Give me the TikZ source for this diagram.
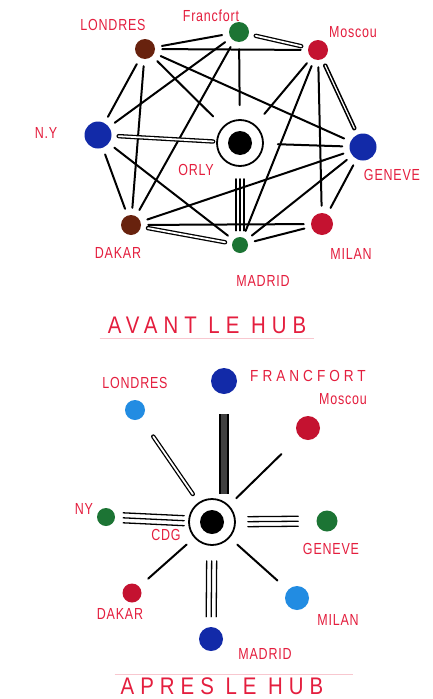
\documentclass[tikz,border=0pt]{standalone}
\usepackage{fontspec}
\newfontfamily\hand[LetterSpace=5,FakeStretch=0.78]{Liberation Sans}
\newfontfamily\handwide[LetterSpace=25,FakeStretch=0.85]{Liberation Sans}
\definecolor{ink}{RGB}{228,30,62}
\definecolor{rd}{RGB}{196,18,48}
\definecolor{gr}{RGB}{28,116,52}
\definecolor{bl}{RGB}{18,42,168}
\definecolor{br}{RGB}{104,34,14}
\definecolor{sky}{RGB}{34,140,226}
\tikzset{c/.style={circle,fill=#1,minimum size=20pt,inner sep=0pt},
 hub/.style={circle,draw,line width=1.8pt,minimum size=46pt,inner sep=0pt,path picture={\fill (path picture bounding box.center) circle (12pt);}},
 t/.style={text=ink,font=\hand\fontsize{16}{16}\selectfont,inner sep=0pt},
 ttl/.style={text=ink,font=\handwide\fontsize{24}{24}\selectfont,inner sep=0pt},
 ln/.style={line width=2pt,line cap=round,shorten <=7pt,shorten >=7pt},
 dbl/.style={ln,line width=1.3pt,double,double distance=1.8pt},
 thin3/.style={ln,line width=1.3pt},
 bar/.style={line width=2pt,double=black!75,double distance=6pt,shorten <=4pt,shorten >=20pt}}
\begin{document}
\begin{tikzpicture}[x=1pt,y=-1pt]
\clip (0,0) rectangle (432,699);
\fill[white] (0,0) rectangle (432,699);
% avant le hub
\node[c=br](lo) at (145,49){};\node[c=gr](fr) at (239,32){};\node[c=rd](mo) at (318,50){};
\node[c=bl,minimum size=27pt](ny) at (98,135){};\node[hub](or) at (240,143){};
\node[c=bl,minimum size=27pt](ge) at (363,147){};\node[c=br](da) at (131,225){};
\node[c=rd,minimum size=22pt](mi) at (322,224){};\node[c=gr,minimum size=16pt](ma) at (240,245){};
\foreach \p/\q in {lo/fr,lo/mo,lo/ny,lo/da,lo/ge,fr/ny,fr/da,mo/ma,mo/mi,ny/da,ny/ma,ge/da,ge/ma,ge/mi,da/mi,ma/mi}
 \draw[ln](\p)--(\q);
\foreach \p in {lo,fr,mo,ge} \draw[ln,shorten >=14pt](\p)--(or);
\draw[dbl](fr)--(mo);\draw[dbl,shorten >=3pt](ny)--(or);\draw[dbl,line width=1.6pt,double distance=1.2pt](mo)--(ge);\draw[dbl](da)--(ma);
\foreach \s in {-4,0,4} \draw[thin3,transform canvas={xshift=\s pt},shorten <=12pt,shorten >=6pt](or)--(ma);
\node[t](llo) at (113,25){LONDRES};\node[t](lfr) at (211,16){Francfort};\node[t](lmo) at (353,32){Moscou};
\node[t](lny) at (46,133){N.Y};\node[t](lor) at (196,170){ORLY};\node[t](lge) at (392,175){GENEVE};
\node[t](lda) at (118,253){DAKAR};\node[t](lmi) at (351,254){MILAN};\node[t](lma) at (263,281){MADRID};
\node[ttl](avant) at (207,325){AVANT LE HUB};
\draw[ink!25,line width=0.6pt](avant.south west)++(-8,5)--([xshift=8pt,yshift=-5pt]avant.south east);
% apres le hub
\node[hub](cdg) at (212,522){};
\node[c=sky](lo2) at (135,410){};\node[c=bl,minimum size=26pt](fr2) at (224,381){};
\node[c=rd,minimum size=24pt](mo2) at (308,428){};\node[c=gr,minimum size=18pt](ny2) at (106,517){};
\node[c=gr,minimum size=21pt](ge2) at (327,521){};\node[c=rd,minimum size=19pt](da2) at (132,593){};
\node[c=sky,minimum size=24pt](mi2) at (297,598){};\node[c=bl,minimum size=24pt](ma2) at (211,639){};
\draw[bar](fr2|-cdg.north)--(fr2);
\draw[dbl,shorten <=10pt,shorten >=22pt](cdg)--(lo2);
\draw[ln,shorten <=10pt,shorten >=25pt](cdg)--(mo2);
\draw[ln,shorten <=10pt,shorten >=12pt](cdg)--(da2);
\draw[ln,shorten <=10pt,shorten >=14pt](cdg)--(mi2);
\foreach \s in {-5,0,5}{\draw[thin3,transform canvas={yshift=\s pt},shorten <=4pt,shorten >=8pt](cdg)--(ny2);
 \draw[thin3,transform canvas={yshift=\s pt},shorten <=12pt,shorten >=18pt](cdg)--(ge2);
 \draw[thin3,transform canvas={xshift=\s pt},shorten <=15pt,shorten >=10pt](cdg)--(ma2);}
\node[t](llo2) at (135,383){LONDRES};\node[t,font=\handwide\fontsize{16}{16}\selectfont](lfr2) at (308,376){FRANCFORT};
\node[t](lmo2) at (343,399){Moscou};\node[t](lny2) at (84,509){NY};\node[t](lcdg) at (166,535){CDG};
\node[t](lge2) at (331,549){GENEVE};\node[t](lda2) at (120,614){DAKAR};\node[t](lmi2) at (338,620){MILAN};
\node[t](lma2) at (265,654){MADRID};
\node[ttl](apres) at (222,686){APRES LE HUB};
\draw[ink!25,line width=0.6pt]([xshift=-6pt,yshift=3pt]apres.north west)--([xshift=30pt,yshift=3pt]apres.north east);
\end{tikzpicture}
\end{document}
